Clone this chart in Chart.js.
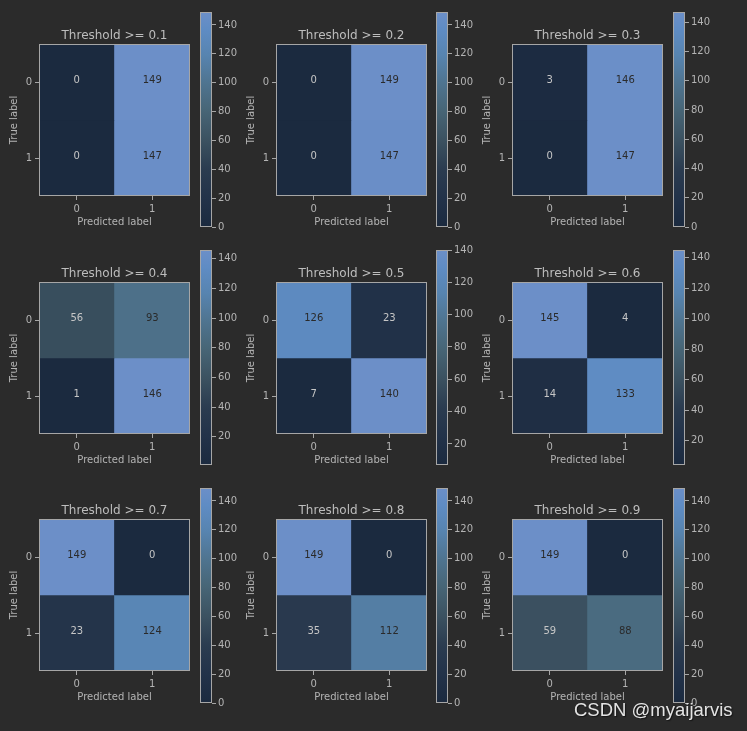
<!DOCTYPE html>
<html>
<head>
<meta charset="utf-8">
<script src="https://cdn.jsdelivr.net/npm/chart.js@4/dist/chart.umd.min.js"></script>
<style>
body { margin: 0; background: #2b2b2b; }
#fig { position: relative; width: 747px; height: 731px; background: #2b2b2b; overflow: hidden; }
#fig canvas { position: absolute; }
#mark { position: absolute; left: 574px; top: 699px; line-height: 20px; font: 18.5px "Liberation Sans", Arial, sans-serif; color: #e4e4e4; text-shadow: 1px 1px 1px #151515; z-index: 5; }
</style>
</head>
<body>
<div id="fig"><div id="mark">CSDN @myaijarvis</div></div>
<script>
// --- data ---
const thresholds = ['0.1', '0.2', '0.3', '0.4', '0.5', '0.6', '0.7', '0.8', '0.9'];
const classLabels = ['0', '1'];
const trueNeg  = [0, 0, 3, 56, 126, 145, 149, 149, 149];
const falsePos = [149, 149, 146, 93, 23, 4, 0, 0, 0];
const falseNeg = [0, 0, 0, 1, 7, 14, 23, 35, 59];
const truePos  = [147, 147, 147, 146, 140, 133, 124, 112, 88];

// --- layout (pixels) ---
const colLeft = [39, 276, 512];
const rowTop = [44, 282, 519];
const cellW = 151, cellH = 152;
const cbLeft = [200, 436, 673];
const cbTop = [11, 249, 487];
const cbW = 12, cbH = 217;

const FONT = 'DejaVu Sans';
const textCol = '#b4b4b4';
const titleCol = '#bdbdbd';
const frameCol = '#a6a6a6';

// colormap stops (dark navy -> slate -> steel blue)
const cmapStops = [
  [0.00, [27, 42, 63]],
  [0.13, [34, 50, 73]],
  [0.27, [43, 60, 80]],
  [0.40, [59, 81, 96]],
  [0.54, [71, 101, 118]],
  [0.67, [79, 116, 144]],
  [0.80, [87, 132, 176]],
  [0.92, [95, 140, 196]],
  [1.00, [108, 143, 200]]
];

function cmap(t) {
  t = Math.max(0, Math.min(1, t));
  for (let i = 1; i < cmapStops.length; i++) {
    if (t <= cmapStops[i][0]) {
      const [t0, c0] = cmapStops[i - 1], [t1, c1] = cmapStops[i];
      const f = (t - t0) / (t1 - t0);
      const c = c0.map((v, k) => Math.round(v + (c1[k] - v) * f));
      return 'rgb(' + c.join(',') + ')';
    }
  }
  return 'rgb(' + cmapStops[cmapStops.length - 1][1].join(',') + ')';
}

const fig = document.getElementById('fig');
function makeCanvas(left, top, w, h) {
  const c = document.createElement('canvas');
  c.width = w; c.height = h;
  c.style.left = left + 'px'; c.style.top = top + 'px';
  fig.insertBefore(c, document.getElementById('mark'));
  return c;
}

// frame + cell numbers
const framePlugin = {
  id: 'frame',
  afterDraw(chart) {
    const a = chart.chartArea, ctx = chart.ctx;
    ctx.save();
    ctx.strokeStyle = frameCol;
    ctx.lineWidth = 1;
    ctx.strokeRect(a.left + 0.5, a.top + 0.5, a.right - a.left - 1, a.bottom - a.top - 1);
    ctx.restore();
  }
};

const cellTextPlugin = {
  id: 'cellText',
  afterDatasetsDraw(chart) {
    const m = chart.options.plugins.cellText.matrix;
    const flat = m.flat();
    const lo = Math.min(...flat), hi = Math.max(...flat);
    const ctx = chart.ctx, xs = chart.scales.x, ys = chart.scales.y;
    ctx.save();
    ctx.font = '10px "' + FONT + '"';
    ctx.textAlign = 'center';
    ctx.textBaseline = 'middle';
    m.forEach((row, r) => row.forEach((v, c) => {
      ctx.fillStyle = v < (lo + hi) / 2 ? '#c6c6c6' : '#2a2a2a';
      ctx.fillText(String(v), xs.getPixelForValue(c), ys.getPixelForValue(r) - 2);
    }));
    ctx.restore();
  }
};

thresholds.forEach((th, i) => {
  const col = i % 3, row = Math.floor(i / 3);
  const matrix = [[trueNeg[i], falsePos[i]], [falseNeg[i], truePos[i]]];
  const flat = matrix.flat();
  const vmin = Math.min(...flat), vmax = Math.max(...flat);
  const norm = v => (v - vmin) / (vmax - vmin);

  // heatmap
  const L = colLeft[col], T = rowTop[row];
  const padSide = 31, topH = 24, botH = 32;
  const cv = makeCanvas(L - padSide, T - topH, cellW + 2 * padSide, cellH + topH + botH);
  new Chart(cv, {
    type: 'bar',
    data: {
      labels: classLabels,
      datasets: matrix.map((vals, r) => ({
        data: vals.map(() => [r - 0.5, r + 0.5]),
        backgroundColor: vals.map(v => cmap(norm(v))),
        borderWidth: 0,
        grouped: false,
        barPercentage: 1,
        categoryPercentage: 1
      }))
    },
    options: {
      responsive: false,
      animation: false,
      devicePixelRatio: 1,
      layout: { padding: 0 },
      plugins: {
        legend: { display: false },
        tooltip: { enabled: false },
        title: {
          display: true,
          text: 'Threshold >= ' + th,
          color: titleCol,
          font: { family: FONT, size: 12, weight: 'normal', lineHeight: 1.25 },
          padding: { top: 8.5, bottom: 0.5 }
        },
        cellText: { matrix: matrix }
      },
      scales: {
        x: {
          type: 'category',
          offset: true,
          grid: { display: true, offset: false, drawOnChartArea: false, drawTicks: true, tickLength: 4, color: frameCol },
          border: { display: false },
          ticks: { color: textCol, font: { family: FONT, size: 10 }, padding: 3, maxRotation: 0 },
          title: { display: true, text: 'Predicted label', color: textCol, font: { family: FONT, size: 10, lineHeight: 1.2 }, padding: 0 },
          afterFit(s) { s.height = botH; }
        },
        y: {
          type: 'linear',
          min: -0.5,
          max: 1.5,
          reverse: true,
          afterBuildTicks(s) { s.ticks = classLabels.map((_, k) => ({ value: k })); },
          grid: { display: true, drawOnChartArea: false, drawTicks: true, tickLength: 4, color: frameCol },
          border: { display: false },
          ticks: { color: textCol, font: { family: FONT, size: 10 }, padding: 3, callback: v => classLabels[v] },
          title: { display: true, text: 'True label', color: textCol, font: { family: FONT, size: 10, lineHeight: 1.2 }, padding: 0 },
          afterFit(s) { s.width = padSide; }
        },
        // empty right-hand axis so the title centres over the matrix
        yPad: {
          position: 'right',
          display: true,
          grid: { display: false },
          border: { display: false },
          ticks: { display: false },
          afterFit(s) { s.width = padSide; }
        }
      }
    },
    plugins: [framePlugin, cellTextPlugin]
  });

  // colorbar
  const cbPadV = 7, cbAxisW = 40;
  const cc = makeCanvas(cbLeft[col], cbTop[row] - cbPadV, cbW + cbAxisW, cbH + 2 * cbPadV);
  new Chart(cc, {
    type: 'bar',
    data: {
      labels: [''],
      datasets: [{
        data: [[vmin, vmax]],
        backgroundColor(ctx) {
          const a = ctx.chart.chartArea;
          if (!a) return cmap(0.5);
          const g = ctx.chart.ctx.createLinearGradient(0, a.bottom, 0, a.top);
          cmapStops.forEach(([t, c]) => g.addColorStop(t, 'rgb(' + c.join(',') + ')'));
          return g;
        },
        borderWidth: 0,
        barPercentage: 1,
        categoryPercentage: 1
      }]
    },
    options: {
      responsive: false,
      animation: false,
      devicePixelRatio: 1,
      layout: { padding: { left: 0, right: 0, top: cbPadV, bottom: cbPadV } },
      plugins: { legend: { display: false }, tooltip: { enabled: false } },
      scales: {
        x: { display: false },
        y: {
          position: 'right',
          min: vmin,
          max: vmax,
          afterBuildTicks(s) {
            const t = [];
            for (let v = Math.ceil(vmin / 20) * 20; v <= vmax; v += 20) t.push({ value: v });
            s.ticks = t;
          },
          grid: { display: true, drawOnChartArea: false, drawTicks: true, tickLength: 4, color: frameCol },
          border: { display: false },
          ticks: { color: textCol, font: { family: FONT, size: 10 }, padding: 2 },
          afterFit(s) { s.width = cbAxisW; }
        }
      }
    },
    plugins: [framePlugin]
  });
});
</script>
</body>
</html>
